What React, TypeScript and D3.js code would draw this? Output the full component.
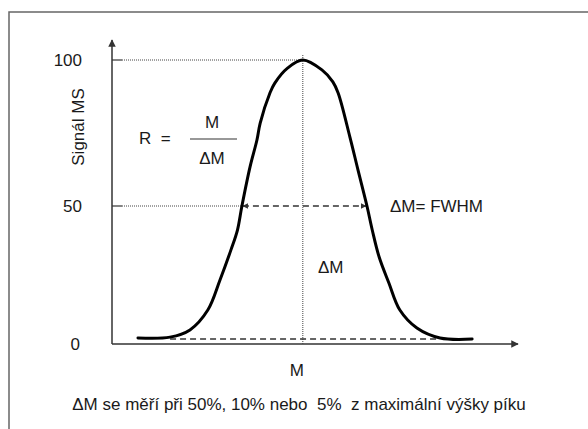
import React from "react";
import * as d3 from "d3";

// Peak profile: x in arbitrary mass units (0..100), y = MS signal (%)
const peakX = [6.4, 14.3, 19.2, 23.6, 26.6, 29.3, 30.9, 32.0, 34.0, 35.7, 36.5, 38.9, 40.1, 43.3, 47.0, 51.7, 54.4, 55.7, 58.6, 60.6, 62.8, 64.1, 65.8, 68.2, 70.9, 75.1, 80.8, 88.7];
const peakY = [2.2, 2.5, 5.1, 12.3, 23.2, 34.1, 41.3, 50, 63.4, 72.6, 78.4, 88.7, 92.1, 97.3, 100, 96.6, 92.5, 88.7, 73.6, 62.3, 50, 41.3, 31.5, 22.1, 12.3, 5.8, 2.2, 1.8];

const yTicks = [100, 50, 0];
const yTickLabels = ["100", "50", "0"];
const peakCenter = 47.0;
const halfLeft = 32.0;
const halfRight = 62.8;
const baselineStart = 14.3;
const baselineEnd = 80.8;
const baselineLevel = 1.8;

const yTitle = "Signál MS";
const xTitle = "M";
const rLabel = "R  =";
const fracTop = "M";
const fracBottom = "ΔM";
const fwhmLabel = "ΔM= FWHM";
const dmLabel = "ΔM";
const caption = "ΔM se měří při 50%, 10% nebo  5%  z maximální výšky píku";

export default function App() {
  const W = 588;
  const H = 429;
  const x = d3.scaleLinear().domain([0, 100]).range([112, 518]);
  const y = d3.scaleLinear().domain([0, 50, 100]).range([344, 206, 60]);

  const pts: [number, number][] = peakX.map((v, i) => [v, peakY[i]]);
  const line = d3
    .line<[number, number]>()
    .x((d) => x(d[0]))
    .y((d) => y(d[1]))
    .curve(d3.curveCatmullRom.alpha(0.5));

  const axisColor = "#333";
  const textColor = "#1a1a1a";
  const font = "'Liberation Sans', Arial, sans-serif";
  const fs = 17;
  const x0 = x(0);
  const y0 = y(0);
  const xEnd = x(100);
  const yTop = 40;

  return (
    <svg
      width={W}
      height={H}
      style={{ position: "absolute", left: 0, top: 0, background: "#fff" }}
      fontFamily={font}
    >
      <defs>
        <marker id="arr" viewBox="0 0 10 10" refX="9" refY="5" markerWidth="5" markerHeight="5" orient="auto-start-reverse">
          <path d="M0,0 L10,5 L0,10 z" fill="#333" />
        </marker>
        <marker id="arrS" viewBox="0 0 10 10" refX="9" refY="5" markerWidth="4" markerHeight="4" orient="auto-start-reverse">
          <path d="M0,0 L10,5 L0,10 z" fill="#333" />
        </marker>
      </defs>

      {/* frame */}
      <path d={`M9,${H} L9,12 L${W},12`} fill="none" stroke="#666" strokeWidth={1.5} />

      {/* axes */}
      <line x1={x0} y1={y0} x2={x0} y2={yTop} stroke={axisColor} strokeWidth={1.5} markerEnd="url(#arr)" />
      <line x1={x0} y1={y0} x2={xEnd} y2={y0} stroke={axisColor} strokeWidth={1.5} markerEnd="url(#arr)" />

      {/* y ticks + labels */}
      {yTicks.map((t, i) => (
        <g key={t}>
          {t !== 0 && <line x1={x0} x2={x0 + 10} y1={y(t)} y2={y(t)} stroke={axisColor} strokeWidth={1.2} />}
          <text
            x={t === 0 ? 80 : 82}
            y={y(t)}
            dy="0.35em"
            textAnchor="end"
            fontSize={fs}
            fill={textColor}
          >
            {yTickLabels[i]}
          </text>
        </g>
      ))}

      {/* dotted guides */}
      <line x1={x0 + 10} x2={x(peakCenter)} y1={y(100)} y2={y(100)} stroke="#444" strokeWidth={1} strokeDasharray="1,1" />
      <line x1={x0 + 10} x2={x(halfLeft)} y1={y(50)} y2={y(50)} stroke="#444" strokeWidth={1} strokeDasharray="1,1" />
      <line x1={x(peakCenter)} x2={x(peakCenter)} y1={y(100) - 5} y2={y0} stroke="#444" strokeWidth={1} strokeDasharray="1,1" />

      {/* FWHM double arrow */}
      <line
        x1={x(halfLeft) + 1}
        x2={x(halfRight) - 1}
        y1={y(50)}
        y2={y(50)}
        stroke="#333"
        strokeWidth={1.4}
        strokeDasharray="6,4"
        markerStart="url(#arrS)"
        markerEnd="url(#arrS)"
      />

      {/* baseline dashed */}
      <line
        x1={x(baselineStart)}
        x2={x(baselineEnd)}
        y1={y(baselineLevel)}
        y2={y(baselineLevel)}
        stroke="#333"
        strokeWidth={1.4}
        strokeDasharray="6,4"
      />

      {/* peak */}
      <path d={line(pts) || ""} fill="none" stroke="#000" strokeWidth={3} strokeLinejoin="round" strokeLinecap="round" />

      {/* texts */}
      <text transform="translate(78,127) rotate(-90)" textAnchor="middle" dy="0.35em" fontSize={fs} fill={textColor}>
        {yTitle}
      </text>
      <text x={139} y={138} dy="0.35em" fontSize={fs} fill={textColor} style={{ whiteSpace: "pre" }}>
        {rLabel}
      </text>
      <text x={212} y={122} dy="0.35em" textAnchor="middle" fontSize={fs} fill={textColor}>
        {fracTop}
      </text>
      <line x1={190} x2={237} y1={139} y2={139} stroke="#333" strokeWidth={1.2} />
      <text x={212} y={158} dy="0.35em" textAnchor="middle" fontSize={fs} fill={textColor}>
        {fracBottom}
      </text>
      <text x={390} y={206} dy="0.35em" fontSize={fs} fill={textColor}>
        {fwhmLabel}
      </text>
      <text x={318} y={267} dy="0.35em" fontSize={fs} fill={textColor}>
        {dmLabel}
      </text>
      <text x={x(peakCenter) - 6} y={370} dy="0.35em" textAnchor="middle" fontSize={fs} fill={textColor}>
        {xTitle}
      </text>
      <text x={299} y={404} dy="0.35em" textAnchor="middle" fontSize={fs} fill={textColor} style={{ whiteSpace: "pre" }}>
        {caption}
      </text>
    </svg>
  );
}
